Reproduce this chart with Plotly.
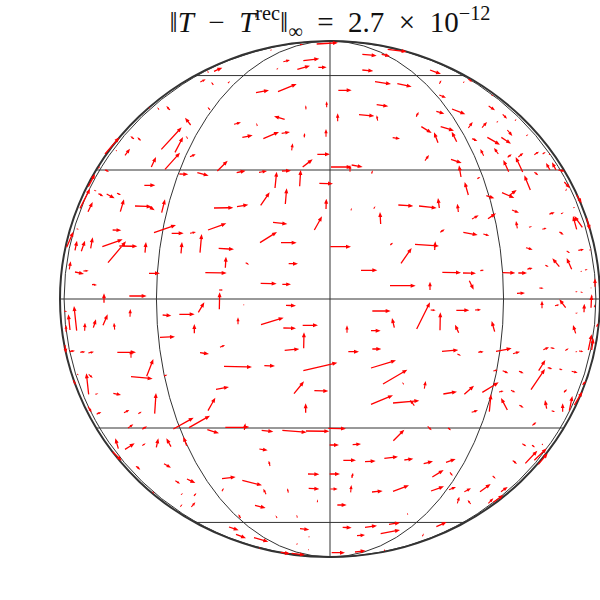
import numpy as np
import plotly.graph_objects as go

# sphere grid, orthographic view
latitudes = [-60, -30, 0, 30, 60]
longitudes = [0, 40, 80]
radius_x = 270
radius_y = 258

# arrows, tail and head, in 3x crop units per quadrant
nw_x0 = [760,700,742,805,680,662,750,800,492,475,451,490,534,618,684,830,768,480,360,327,300,552,622,704,422,334,375,413,345,420,304,225,272,252,200,165,145,577,640,695,763,828,725,802,758,502,165,388,442,560,627,696,283,675,749,808,133,145,170,201,90,115,632,706,828,114,211,255,290,335,492,561,793,80,188,312,365,420,474,669,630,50,75,94,122,157,174,208,285,393,450,506,693,58,526,587,716,75,100,297,466,126,632,697,238,507,162,508]
nw_y0 = [92,95,118,112,118,62,44,42,124,128,156,165,159,188,185,232,238,240,240,239,235,283,288,268,285,358,367,326,418,380,411,376,331,326,363,372,415,322,326,310,322,320,361,373,411,423,420,432,428,428,427,423,466,474,469,460,481,491,492,490,535,470,526,522,537,545,545,528,525,548,534,530,600,596,600,608,610,610,600,577,638,652,661,664,655,650,698,648,668,670,668,655,638,718,713,698,701,726,723,730,728,764,760,763,798,780,818,838]
nw_x1 = [808,720,780,830,685,664,760,864,517,472,467,484,540,657,740,830,767,473,349,321,295,573,618,672,405,395,399,407,390,437,318,240,262,241,197,208,150,608,687,720,764,828,728,840,788,533,177,415,476,587,651,723,316,680,752,849,140,160,194,213,120,135,659,710,829,128,222,305,314,345,550,595,816,87,214,378,401,438,529,712,681,70,81,105,128,218,228,262,288,396,455,552,740,62,528,597,744,102,116,330,530,141,680,723,290,519,162,509]
nw_y1 = [86,90,107,112,113,57,42,38,113,121,148,156,153,181,162,214,226,231,228,232,232,277,279,259,263,292,321,318,368,373,381,356,322,319,360,322,408,316,306,306,309,297,340,373,388,392,425,433,437,422,423,422,466,425,420,461,483,499,505,495,476,432,487,475,506,516,508,530,541,508,533,524,559,598,601,585,610,606,580,582,606,605,632,632,622,628,634,649,636,636,612,658,638,694,680,704,701,732,722,730,729,765,761,763,798,780,790,787]

ne_x0 = [112,170,188,112,315,150,217,343,415,430,40,343,155,38,102,158,274,334,381,491,533,500,515,570,289,347,430,471,339,395,203,441,487,529,547,604,476,520,548,580,628,653,672,300,378,551,593,675,693,700,18,80,75,140,408,430,457,628,616,718,722,484,531,552,755,220,282,343,400,78,146,561,441,489,673,708,745,167,755,772,785,577,612,652,346,415,475,703,16,196,270,329,603,228,725,760,793,661,703,740,108,352,414,466,533,580,607,767,780,810,195,315,433,576,643,752,767,798,800]
ne_y0 = [73,73,58,120,120,155,161,161,158,148,181,195,224,274,254,272,260,244,237,228,253,195,277,272,290,290,294,293,338,335,323,326,322,322,300,317,377,372,382,381,374,372,372,392,388,425,426,420,420,420,411,405,425,431,441,495,446,427,480,456,482,497,488,497,495,525,528,534,546,541,536,540,567,566,553,551,533,582,598,592,565,595,592,598,607,607,612,606,650,645,643,660,653,700,663,661,660,706,710,718,721,727,729,722,728,729,718,725,720,770,767,780,752,790,774,785,786,775,807]
ne_x1 = [155,195,245,145,348,198,260,349,418,442,80,363,190,38,148,155,281,358,421,510,546,505,520,574,320,387,443,486,327,380,225,457,525,558,562,610,466,507,560,595,642,662,677,312,410,535,572,663,681,720,80,113,75,143,402,419,466,640,598,735,725,508,568,575,770,265,335,339,397,79,151,582,461,513,689,716,750,165,744,748,795,573,621,665,359,458,493,716,78,204,342,331,623,260,735,777,798,671,682,725,157,408,453,477,571,606,623,771,788,810,272,315,446,600,656,758,775,798,800]
ne_y1 = [77,79,65,123,132,162,170,151,153,155,181,203,229,250,258,256,246,251,253,241,266,198,272,267,309,302,276,276,307,305,326,333,344,341,318,313,357,354,373,369,365,366,375,375,399,390,381,399,397,424,411,411,405,421,406,456,441,436,436,475,475,505,504,480,520,528,534,504,521,533,528,548,556,550,547,547,531,546,558,558,600,573,588,594,598,615,617,614,650,638,648,634,659,654,669,658,659,710,685,684,721,728,730,720,729,729,714,722,717,745,767,755,779,789,775,785,787,772,793]

sw_x0 = [580,708,445,240,48,60,80,42,104,130,159,194,338,388,564,633,433,700,758,330,45,761,510,60,91,115,202,243,450,704,522,643,760,290,243,342,82,116,116,70,732,498,136,190,793,474,314,767,114,140,222,265,370,417,234,277,526,583,472,635,697,768,205,225,277,319,363,410,628,188,660,258,342,516,411,376,577,774,776,648,516,715,393,432,802,391,424,615,308,572,681,742,537,750,558,776,612,740,775,692,725,627]
sw_y0 = [29,31,52,65,110,105,107,48,107,98,91,104,60,58,88,89,115,99,91,127,150,160,157,170,172,174,172,188,173,166,214,212,227,244,245,243,237,238,298,255,296,283,298,295,287,347,356,353,335,358,353,356,402,398,399,403,397,405,404,406,406,408,461,463,452,457,455,452,462,470,513,514,506,551,552,557,556,537,580,598,589,593,599,603,622,635,636,631,590,669,669,668,696,701,718,727,728,749,765,772,775,758]
sw_x1 = [584,738,463,241,48,55,72,52,105,138,173,192,364,434,564,701,433,738,804,375,48,762,525,75,106,132,258,243,477,748,606,675,862,310,308,352,86,128,109,77,762,537,145,213,835,496,318,767,125,154,238,275,431,480,250,291,598,586,507,670,770,838,196,254,287,325,349,400,653,215,656,271,363,557,436,390,636,808,808,640,521,712,399,439,802,397,436,647,313,565,676,739,566,778,588,778,655,742,777,720,765,632]
sw_y1 = [30,32,22,42,90,58,33,49,83,73,58,83,62,58,67,68,87,100,91,125,175,112,150,167,170,170,172,165,177,162,216,213,203,192,251,239,241,249,235,270,259,276,295,300,288,308,294,325,352,351,345,350,368,362,388,394,396,385,415,410,412,409,430,445,445,430,430,425,466,497,497,524,518,546,564,566,571,538,582,581,579,580,594,594,613,627,622,639,597,658,661,659,706,704,730,723,740,743,763,776,780,760]

se_x0 = [142,275,317,345,394,450,651,690,722,777,798,808,752,208,66,138,401,509,752,790,800,815,70,142,351,397,460,513,564,655,677,721,752,762,138,174,236,505,533,582,641,668,703,740,298,355,418,472,522,558,618,717,773,138,204,268,493,547,583,665,680,713,733,748,440,10,622,205,308,369,592,621,651,14,83,601,628,640,55,120,178,238,296,363,563,322,375,503,81,14,16,77,141,204,318,372,418,465,528,397,437,490,505,37,248,53,120,192,334,96,167,292,20,90,178]
se_y0 = [48,102,45,106,46,45,40,32,38,52,38,37,55,98,113,107,113,110,115,165,165,95,170,162,169,177,172,169,176,164,158,167,171,168,219,267,268,228,227,229,227,218,222,229,281,297,298,292,291,286,284,292,270,328,324,332,350,345,331,341,347,350,347,330,352,400,391,437,394,399,446,451,447,450,449,505,496,508,496,500,490,495,506,502,497,546,532,543,549,537,582,592,591,589,588,584,590,590,590,625,627,625,622,630,659,697,697,688,695,722,716,724,773,771,768]
se_x1 = [197,315,332,346,433,468,651,703,703,778,800,808,759,201,66,167,390,500,744,800,805,820,102,169,400,408,476,560,585,672,690,731,757,775,213,247,231,518,550,596,661,682,713,758,302,396,447,521,536,571,660,726,783,204,283,255,498,528,596,660,690,713,742,772,459,63,634,238,320,378,604,630,655,42,108,637,665,668,93,152,219,265,324,392,576,356,383,512,84,45,38,79,173,252,357,393,438,497,548,403,428,505,535,65,247,80,156,225,365,120,225,296,60,122,178]
se_y1 = [48,22,46,52,46,44,17,29,13,26,0,28,53,69,91,107,89,78,90,118,130,85,170,162,165,182,170,160,170,157,161,160,168,170,196,224,262,225,235,235,195,222,225,233,258,290,272,262,288,292,222,283,258,301,317,315,298,309,338,315,351,325,303,290,346,401,382,404,406,406,454,457,451,450,447,467,460,475,496,498,485,491,499,492,507,525,543,551,533,537,582,570,588,571,574,576,580,567,576,605,615,610,600,630,653,698,692,683,681,720,705,715,773,767,762]

SHAFT = 1.3
HEAD_W = 2.0
HEAD_L = 5.0


def arrow_outline(x0, y0, x1, y1):
    """Quiver style arrow polygon, short arrows shrink as a whole"""
    dx, dy = x1 - x0, y1 - y0
    length = np.hypot(dx, dy)
    if length == 0:
        return [], []
    ux, uy = dx / length, dy / length
    px, py = -uy, ux
    scale = min(1.0, length / 9)
    s = SHAFT / 2 * max(scale, 0.85)
    w = max(HEAD_W * scale, s)
    hl = HEAD_L * scale
    bx, by = x1 - ux * hl, y1 - uy * hl
    xs = [x0 + px * s, bx + px * s, bx + px * w, x1, bx - px * w, bx - px * s, x0 - px * s, x0 + px * s, None]
    ys = [y0 + py * s, by + py * s, by + py * w, y1, by - py * w, by - py * s, y0 - py * s, y0 + py * s, None]
    return xs, ys


def quadrant(x0, y0, x1, y1, left, top):
    """Crop units to pixels from the sphere centre, y up"""
    out_x, out_y = [], []
    for a, b, c, d in zip(x0, y0, x1, y1, strict=True):
        xs, ys = arrow_outline(a / 3 + left - 330, 299 - b / 3 - top, c / 3 + left - 330, 299 - d / 3 - top)
        out_x += xs
        out_y += ys
    return out_x, out_y


fig = go.Figure()

arrow_x, arrow_y = [], []
for q in [
    (nw_x0, nw_y0, nw_x1, nw_y1, 50, 30),
    (ne_x0, ne_y0, ne_x1, ne_y1, 325, 30),
    (sw_x0, sw_y0, sw_x1, sw_y1, 50, 295),
    (se_x0, se_y0, se_x1, se_y1, 325, 295),
]:
    qx, qy = quadrant(*q)
    arrow_x += qx
    arrow_y += qy

fig.add_trace(go.Scatter(
    x=arrow_x, y=arrow_y, mode="lines", fill="toself",
    fillcolor="#ff0000", line=dict(color="#ff0000", width=0),
    hoverinfo="skip", showlegend=False,
))

grid_line = dict(color="#333333", width=1)

# parallels are straight lines in this view
for lat in latitudes:
    half = radius_x * np.cos(np.radians(lat))
    level = radius_y * np.sin(np.radians(lat))
    fig.add_shape(type="line", x0=-half, x1=half, y0=level, y1=level, line=grid_line, layer="below")

# meridians are ellipses, 0 degrees is the vertical diameter
for lon in longitudes:
    half = radius_x * np.sin(np.radians(lon))
    if lon == 0:
        fig.add_shape(type="line", x0=0, x1=0, y0=-radius_y, y1=radius_y, line=grid_line, layer="below")
    else:
        fig.add_shape(type="circle", x0=-half, x1=half, y0=-radius_y, y1=radius_y, line=grid_line, layer="below")

# sphere outline
fig.add_shape(type="circle", x0=-radius_x, x1=radius_x, y0=-radius_y, y1=radius_y,
              line=dict(color="#333333", width=2), layer="below")

fig.update_xaxes(range=[-330, 270], visible=False)
fig.update_yaxes(range=[-301, 299], visible=False)

fig.update_layout(
    width=600,
    height=600,
    margin=dict(l=0, r=0, t=0, b=0),
    paper_bgcolor="white",
    plot_bgcolor="white",
    font=dict(family="Liberation Serif", color="#111111"),
    title=dict(
        text="‖<i>T</i>\u2002−\u2002<i>T</i><sup>rec</sup>‖<sub>∞</sub>\u2002=\u20022.7\u2002×\u200210<sup>−12</sup>",
        font=dict(size=29, family="Liberation Serif", color="#111111"),
        x=0.55, xanchor="center", y=0.963, yanchor="middle",
    ),
)

fig.write_html("out.html", config=dict(displayModeBar=False),
               post_script="document.body.style.margin='0';")
